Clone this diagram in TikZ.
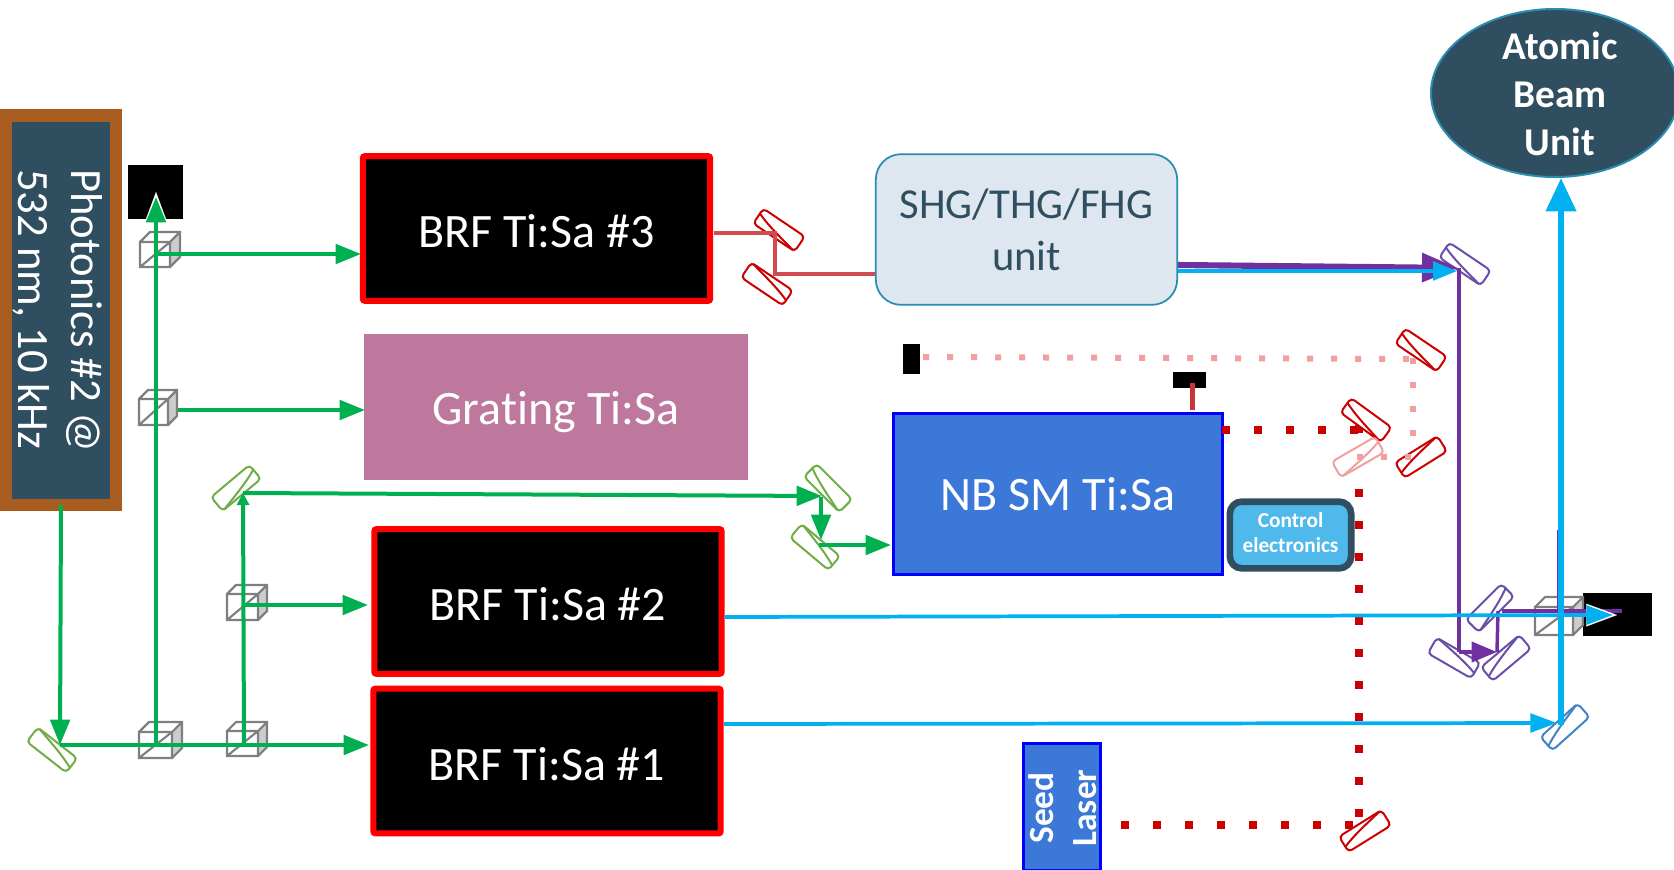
\documentclass[tikz,border=0pt]{standalone}
\usepackage{fontspec}
\setmainfont{Carlito}[Ligatures={NoCommon}]
\usetikzlibrary{arrows.meta,shapes.geometric,positioning}
\definecolor{gbeam}{HTML}{00B050}
\definecolor{bbeam}{HTML}{00B0F0}
\definecolor{pbeam}{HTML}{7030A0}
\definecolor{slate}{HTML}{2F4E5F}
\definecolor{mgreen}{HTML}{70AD47}
\definecolor{mred}{HTML}{CC0000}
\definecolor{mpurple}{HTML}{6A4FA8}
\definecolor{mblue}{HTML}{3F85C6}
\definecolor{mpink}{HTML}{EFA0A0}
\definecolor{lred}{HTML}{D04C50}
\definecolor{dred}{HTML}{C8353A}
\definecolor{cubeg}{HTML}{7F7F7F}
\tikzset{
  px/.style={x=.75pt,y=-.75pt},
  lbl/.style={text=white,align=center,inner sep=0pt},
  brf/.style={draw=red,fill=black,line width=4.5pt,rounded corners=1.5pt,minimum width=260.5pt,minimum height=108.5pt,text=white,inner sep=0pt,text height=29pt,text depth=0pt,font=\fontsize{36}{42}\selectfont},
  gbm/.style={gbeam,line width=3pt},
  gar/.style={gbm,-{Triangle[length=19pt,width=14.5pt]}},
  gsm/.style={gbm,-{Triangle[length=9pt,width=9pt]}},
  bbm/.style={bbeam,line width=2.8pt,-{Triangle[length=20pt,width=14pt]}},
  pbm/.style={pbeam,line width=2.6pt},
  halo/.style={white,line width=.1pt,-{Triangle[length=23pt,width=17pt]}},
  rbm/.style={lred,line width=2.7pt},
  pinkdots/.style={mpink,line width=4.5pt,dash pattern=on 4.5pt off 13.5pt},
  reddots/.style={mred,line width=6pt,dash pattern=on 6pt off 18pt},
}
\newcommand\opticmirror[5]{%
  \begin{scope}[shift={(#2)},rotate=#3,#5]
    \draw[#4,fill=white,line width=1.5pt,rounded corners=3pt] (-25,-9) rectangle (25,9);
    \draw[#4,line width=1.5pt] (-25,-3) .. controls (-10,3) and (10,6) .. (23,9);
  \end{scope}
  \coordinate (#1) at (#2);}
\newcommand\bscube[6]{%
  \fill[black!20] (#2+#4,#3) -- ++(#6,-#6) -- ++(0,#5) -- ++(-#6,#6) -- cycle;
  \draw[cubeg,line width=1.6pt,line join=miter] (#2,#3) rectangle ++(#4,#5)
    (#2,#3) -- ++(#6,-#6) -- ++(#4,0) -- ++(0,#5) -- ++(-#6,#6)
    (#2+#4,#3) -- ++(#6,-#6)
    (#2,#3+#5) -- ++(#4,-#5);
  \coordinate (#1) at (#2+#4/2,#3+#5/2);}
\begin{document}
\begin{tikzpicture}[px]
\useasboundingbox (0,0) rectangle (1674,870);
\clip (0,0) rectangle (1674,870);
% pump
\node[fill={rgb,255:red,168;green,92;blue,32},minimum width=91.5pt,minimum height=301.5pt,inner sep=0pt] (pumpouter) at (61,310) {};
\node[fill=slate,minimum width=73.5pt,minimum height=282.75pt,inner sep=0pt] (pump) at (61,310.5) {};
\node[lbl,rotate=-90,font=\fontsize{33.5}{40}\selectfont,anchor=north west,align=left] (pumptxt) at (103,169) {Photonics \#2 @\\532 nm, 10 kHz};
% lasers
\node[brf] (b3) at (536.5,228.5) {BRF Ti:Sa \#3};
\node[fill={rgb,255:red,190;green,120;blue,158},minimum width=288pt,minimum height=109.5pt,lbl,text height=26.6pt,text depth=0pt,font=\fontsize{36}{42}\selectfont] (grating) at (556,407) {Grating Ti:Sa};
\node[brf] (b2) at (548,601.5) {BRF Ti:Sa \#2};
\node[brf] (b1) at (547,761) {BRF Ti:Sa \#1};
\node[draw=blue,fill={rgb,255:red,60;green,120;blue,216},line width=2.2pt,minimum width=247pt,minimum height=121pt,lbl,font=\fontsize{36}{42}\selectfont] (nb) at (1058,494) {NB SM Ti:Sa};
\node[draw=slate,fill={rgb,255:red,80;green,185;blue,236},line width=5pt,rounded corners=9pt,minimum width=91pt,minimum height=50pt,lbl,font=\fontsize{16}{19.5}\selectfont\bfseries] (ctrl) at (1290.5,535) {\raisebox{1.5pt}{\begin{tabular}{@{}c@{}}Control\\[-1pt]electronics\end{tabular}}};
\node[draw={rgb,255:red,42;green,140;blue,175},fill={rgb,255:red,222;green,231;blue,240},line width=1.3pt,rounded corners=19pt,minimum width=226pt,minimum height=113pt,inner sep=0pt,align=center,text=slate,font=\fontsize{32}{39}\selectfont] (shg) at (1026.5,229.5) {SHG/THG/FHG\\unit};
\node[ellipse,draw={rgb,255:red,42;green,140;blue,175},fill=slate,line width=1.5pt,minimum width=186pt,minimum height=126pt,inner sep=0pt] (abu) at (1555,93) {};
\node[lbl,font=\fontsize{29.5}{36}\selectfont\bfseries] (abutxt) at (1560,94) {Atomic\\Beam\\Unit};
\node[draw=blue,fill={rgb,255:red,60;green,120;blue,216},line width=2pt,minimum width=58pt,minimum height=95pt,inner sep=0pt] (seedbox) at (1062,807) {};
\node[lbl,rotate=90,font=\fontsize{26.5}{32.5}\selectfont\bfseries] (seed) at (1063,808) {Seed\\Laser};
% dumps
\node[fill=black,minimum width=41pt,minimum height=40.5pt,inner sep=0pt] (dumpa) at (155.5,192) {};
\node[fill=black,minimum width=52pt,minimum height=32pt,inner sep=0pt] (dumpb) at (1617.5,614.5) {};
\node[fill=black,minimum width=12.5pt,minimum height=22pt,inner sep=0pt] (dumpc) at (911.5,359) {};
\node[fill=black,minimum width=24.5pt,minimum height=12pt,inner sep=0pt] (dumpd) at (1189.5,380) {};
% cubes
\bscube{c1}{140}{242}{30}{25}{10}
\bscube{c2}{139}{399}{29}{26}{9}
\bscube{c3}{139}{732}{33}{26}{10}
\bscube{c4}{227}{731}{31}{25}{9}
\bscube{c5}{227}{594}{31}{26}{9}
\bscube{c6}{1535}{607}{38}{28}{10}
% mirrors
\opticmirror{mg1}{52,750}{-38}{mgreen}{xscale=-1,yscale=-1}
\opticmirror{mg2}{236,488}{40}{mgreen}{xscale=-1}
\opticmirror{mg3}{828,488}{-45}{mgreen}{}
\opticmirror{mg4}{815,547}{-40}{mgreen}{xscale=-1,yscale=-1}
\opticmirror{mr1}{779,230}{-34}{mred}{}
\opticmirror{mr2}{767,284}{-34}{mred}{xscale=-1,yscale=-1}
\opticmirror{mp1}{1465,264}{-34}{mpurple}{}
\opticmirror{mr3}{1421,350}{-34}{mred}{}
\opticmirror{mr5}{1421,457}{32}{mred}{yscale=-1}
\opticmirror{mp2}{1490,608}{45}{mpurple}{xscale=-1}
\opticmirror{mp3}{1454,658}{-30}{mpurple}{xscale=-1,yscale=-1}
\opticmirror{mp4}{1506,658}{40}{mpurple}{yscale=-1}
\opticmirror{mb1}{1565,727}{42}{mblue}{yscale=-1}
% coordinates
\coordinate (gs) at (61,505);
\coordinate (gm) at (60,745);
\coordinate (gh3) at (156,745);
\coordinate (gh4) at (244,745);
\coordinate (gt1) at (369,745);
\coordinate (gd) at (156,197);
\coordinate (gdh) at (156,192);
\coordinate (g1) at (156,254);
\coordinate (g1t) at (361,254);
\coordinate (g2) at (178,410);
\coordinate (g2t) at (365,410);
\coordinate (g5) at (244,605);
\coordinate (g5t) at (368,605);
\coordinate (gu) at (243,493);
\coordinate (gut) at (822,496);
\coordinate (gd2) at (821,497);
\coordinate (gd2t) at (821,540);
\coordinate (g6) at (819,545);
\coordinate (g6t) at (891,545);
% beams
\draw[gar] (gs) -- (gm);
\draw[gbm] (gm) -- (c3);
\draw[gar] (gm) -- (gt1);
\draw[halo] (gh3) -- (gdh);
\draw[gar] (gh3) -- (gd);
\draw[gar] (g1) -- (g1t);
\draw[gar] (g2) -- (g2t);
\draw[gar] (g5) -- (g5t);
\draw[gsm] (gh4) -- (gu);
\draw[gar] (gu) -- (gut);
\draw[gar] (gd2) -- (gd2t);
\draw[gar] (g6) -- (g6t);
% red
\coordinate (r1) at (775,233);
\coordinate (r2) at (775,274);
\coordinate (rs) at (714,233);
\coordinate (re) at (875,274);
\draw[rbm,line join=miter] (rs) -- (r1) -- (r2) -- (re);
% nb output
\coordinate (da) at (1192.5,383);
\coordinate (db) at (1192.5,410);
\draw[dred,line width=3.6pt] (da) -- (db);
% dark dotted
\coordinate (d0) at (1222,430);
\coordinate (d1) at (1362,430);
\coordinate (d2) at (1359,425);
\coordinate (d3) at (1359,820);
\coordinate (d4) at (1121,825);
\coordinate (d5) at (1353,825);
\draw[reddots] (d0) -- (d1);
\draw[reddots] (d2) -- (d3);
\draw[reddots] (d4) -- (d5);
\opticmirror{mr4}{1366,420}{-36}{mred}{}
\opticmirror{mr6}{1365,831}{32}{mred}{yscale=-1}
\opticmirror{mk1}{1358,457}{30}{mpink}{xscale=-1}
% pink dotted
\coordinate (p0) at (923,357);
\coordinate (pa) at (1412,359);
\coordinate (p1) at (1413,358);
\coordinate (p2) at (1413,436);
\coordinate (p3) at (1411,457);
\coordinate (p4) at (1355,457);
\draw[pinkdots] (p0) -- (pa);
\draw[pinkdots] (p1) -- (p2);
\draw[pinkdots] (p3) -- (p4);
% shg outputs and purple
\coordinate (sp) at (1178,265);
\coordinate (spt) at (1458,268);
\coordinate (sb) at (1178,271);
\coordinate (sbt) at (1457,271);
\draw[pbeam,line width=4.6pt,-{Triangle[length=27pt,width=21pt]}] (sp) -- (spt);
\draw[bbm,line width=2.4pt,-{Triangle[length=18pt,width=14pt]}] (sb) -- (sbt);
\coordinate (v0) at (1459,268);
\coordinate (v1) at (1459,652);
\coordinate (v2) at (1497,652);
\coordinate (v3) at (1498,611);
\coordinate (v4) at (1622,611);
\coordinate (v5) at (1502,611);
\coordinate (w0) at (1557.5,530);
\coordinate (w1) at (1557.5,611);
\draw[pbm] (v0) -- (v1);
\draw[pbm,line width=3pt,-{Triangle[length=19pt,width=15pt]}] (v1) -- (v2);
\draw[pbm] (v2) -- (v3);
\draw[pbm] (v5) -- (v4);
\draw[pbm,line width=1.3pt] (w0) -- (w1);
% blue
\coordinate (bl0) at (725,617);
\coordinate (bl1) at (1613,615);
\coordinate (blh) at (1617,615);
\coordinate (bl2) at (724,724);
\coordinate (bl3) at (1557,723);
\coordinate (bv0) at (1561,725);
\coordinate (bv1) at (1561,178);
\draw[halo] (bl0) -- (blh);
\draw[bbm] (bl0) -- (bl1);
\draw[bbm] (bl2) -- (bl3);
\draw[bbeam,line width=4.5pt,-{Triangle[length=25pt,width=22pt]}] (bv0) -- (bv1);
\end{tikzpicture}
\end{document}
